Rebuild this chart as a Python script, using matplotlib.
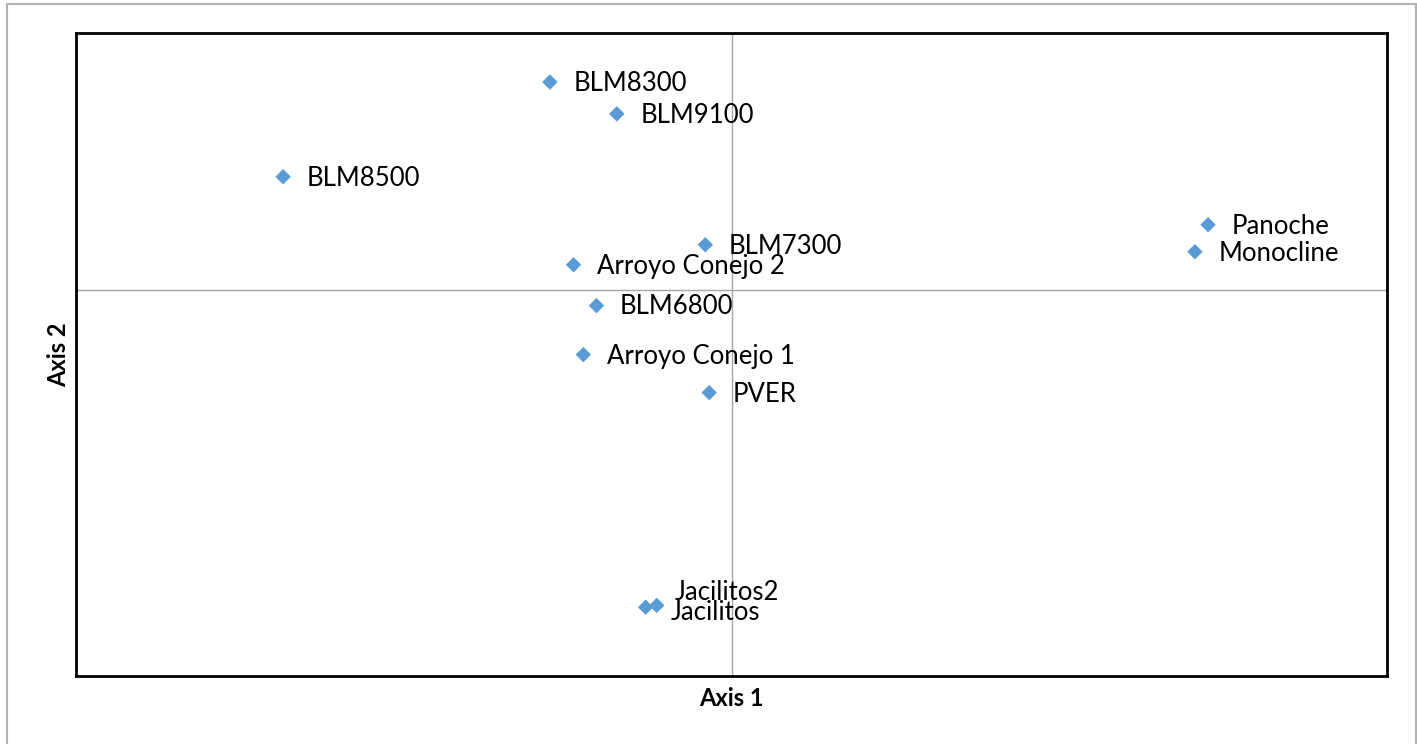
import matplotlib
matplotlib.use("Agg")
import matplotlib.pyplot as plt
from matplotlib.patches import Rectangle

names = ["BLM8300", "BLM9100", "BLM8500", "BLM7300", "Arroyo Conejo 2",
         "Panoche", "Monocline", "BLM6800", "Arroyo Conejo 1", "PVER",
         "Jacilitos2", "Jacilitos"]
axis1 = [-0.277, -0.175, -0.684, -0.040, -0.241,
         0.727, 0.707, -0.206, -0.226, -0.034,
         -0.114, -0.131]
axis2 = [0.809, 0.685, 0.440, 0.175, 0.097,
         0.253, 0.148, -0.062, -0.253, -0.401,
         -1.230, -1.237]
# label nudges (points)
label_dx = [17, 17, 17, 17, 17, 17, 17, 17, 17, 17, 13, 18]
label_dy = [-1, -1, -1, -1, -1, -1, -1, -1, -1, -1, 9, -4]

plt.rcParams["font.family"] = ["Lato", "DejaVu Sans"]

fig = plt.figure(figsize=(14.17, 7.44), dpi=100)
ax = fig.add_axes([76 / 1417, 1 - 676 / 744, (1387 - 76) / 1417, (676 - 33) / 744])

# outer chart border
fig.patches.append(Rectangle((7 / 1417, -0.01), (1416 - 7) / 1417, 1 - 4 / 744 + 0.01,
                             transform=fig.transFigure, fill=False,
                             edgecolor="#b3b3b3", linewidth=1.5))

ax.set_xlim(-1.0, 1.0)
ax.set_ylim(-1.505, 1.0)
ax.axvline(0, color="#a6a6a6", linewidth=1, zorder=1)
ax.axhline(0, color="#a6a6a6", linewidth=1, zorder=1)

ax.scatter(axis1, axis2, marker="D", s=62, color="#5b9bd5", edgecolor="none", zorder=3)
for n, x, y, dx, dy in zip(names, axis1, axis2, label_dx, label_dy):
    ax.annotate(n, (x, y), xytext=(dx, dy), textcoords="offset points",
                va="center", ha="left", fontsize=18.5, color="black", zorder=4)

ax.set_xticks([])
ax.set_yticks([])
for s in ax.spines.values():
    s.set_linewidth(2)
    s.set_color("black")

ax.set_xlabel("Axis 1", fontsize=17, fontweight="bold", labelpad=8)
ax.set_ylabel("Axis 2", fontsize=17, fontweight="bold", labelpad=4)

fig.savefig("out.png", dpi=100)
